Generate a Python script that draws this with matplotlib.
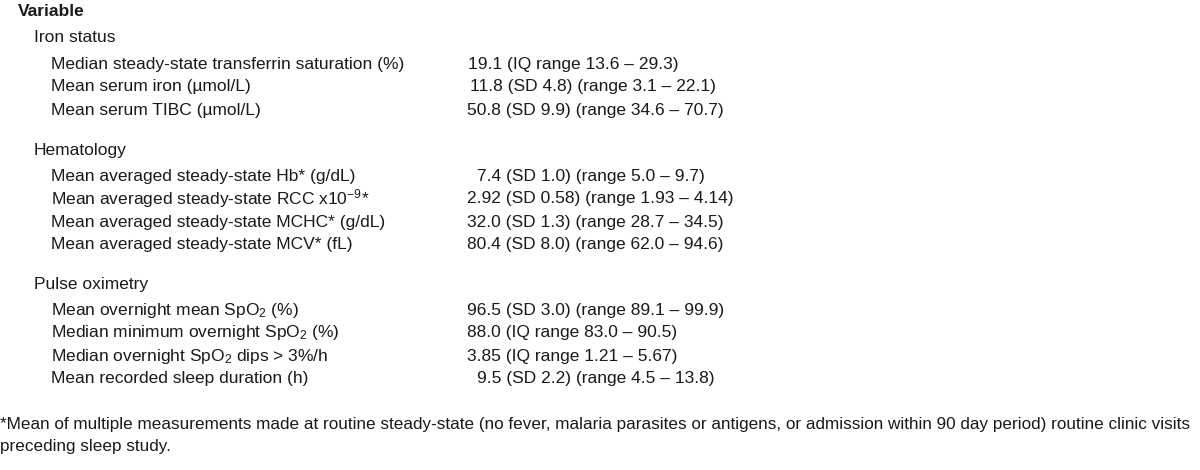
import matplotlib
matplotlib.use("Agg")
import matplotlib.pyplot as plt
from matplotlib import font_manager

names = {f.name for f in font_manager.fontManager.ttflist}
FAM = "Liberation Sans Narrow" if "Liberation Sans Narrow" in names else "Liberation Sans"
plt.rcParams["font.family"] = [FAM, "DejaVu Sans"]
plt.rcParams["mathtext.fontset"] = "custom"
plt.rcParams["mathtext.rm"] = FAM
plt.rcParams["mathtext.it"] = FAM
plt.rcParams["mathtext.default"] = "rm"

header = "Variable"
groups = ["Iron status", "Hematology", "Pulse oximetry"]
variables = [
    ["Median steady-state transferrin saturation (%)",
     "Mean serum iron (\u00b5mol/L)",
     "Mean serum TIBC (\u00b5mol/L)"],
    ["Mean averaged steady-state Hb* (g/dL)",
     "Mean averaged steady-state RCC x10$^{-9}$*",
     "Mean averaged steady-state MCHC* (g/dL)",
     "Mean averaged steady-state MCV* (fL)"],
    ["Mean overnight mean SpO$_{2}$ (%)",
     "Median minimum overnight SpO$_{2}$ (%)",
     "Median overnight SpO$_{2}$ dips > 3%/h",
     "Mean recorded sleep duration (h)"],
]
values = [
    ["19.1 (IQ range 13.6 \u2013 29.3)",
     "11.8 (SD 4.8) (range 3.1 \u2013 22.1)",
     "50.8 (SD 9.9) (range 34.6 \u2013 70.7)"],
    ["7.4 (SD 1.0) (range 5.0 \u2013 9.7)",
     "2.92 (SD 0.58) (range 1.93 \u2013 4.14)",
     "32.0 (SD 1.3) (range 28.7 \u2013 34.5)",
     "80.4 (SD 8.0) (range 62.0 \u2013 94.6)"],
    ["96.5 (SD 3.0) (range 89.1 \u2013 99.9)",
     "88.0 (IQ range 83.0 \u2013 90.5)",
     "3.85 (IQ range 1.21 \u2013 5.67)",
     "9.5 (SD 2.2) (range 4.5 \u2013 13.8)"],
]
value_indent = [[1, 3, 0], [10, 0, 0, 0], [0, 0, 0, 10]]
footnote = ["*Mean of multiple measurements made at routine steady-state (no fever, malaria parasites or antigens, or admission within 90 day period) routine clinic visits",
            "preceding sleep study."]

W, H = 1200, 470
fig = plt.figure(figsize=(12, 4.7), dpi=100)
ax = fig.add_axes([0, 0, 1, 1])
ax.set_xlim(0, W)
ax.set_ylim(H, 0)
ax.axis("off")

FS = 12.5
col = "#1a1a1a"
ax.text(18, 11, header, fontsize=FS, fontweight="bold", va="center", color=col)

group_y = [38, 150, 284]
x_group, x_var, x_val = 34, 51, 467
for gi, g in enumerate(groups):
    y = group_y[gi]
    ax.text(x_group, y, g, fontsize=FS, va="center", color=col)
    for vi, (v, val) in enumerate(zip(variables[gi], values[gi])):
        yy = y + 26 + 23 * vi
        ax.text(x_var, yy, v, fontsize=FS, va="center", color=col)
        ax.text(x_val + value_indent[gi][vi], yy, val, fontsize=FS, va="center", color=col)

ax.text(0, 424, footnote[0], fontsize=12.35, va="center", color=col)
ax.text(0, 447, footnote[1], fontsize=12.35, va="center", color=col)

fig.savefig("out.png", dpi=100)
